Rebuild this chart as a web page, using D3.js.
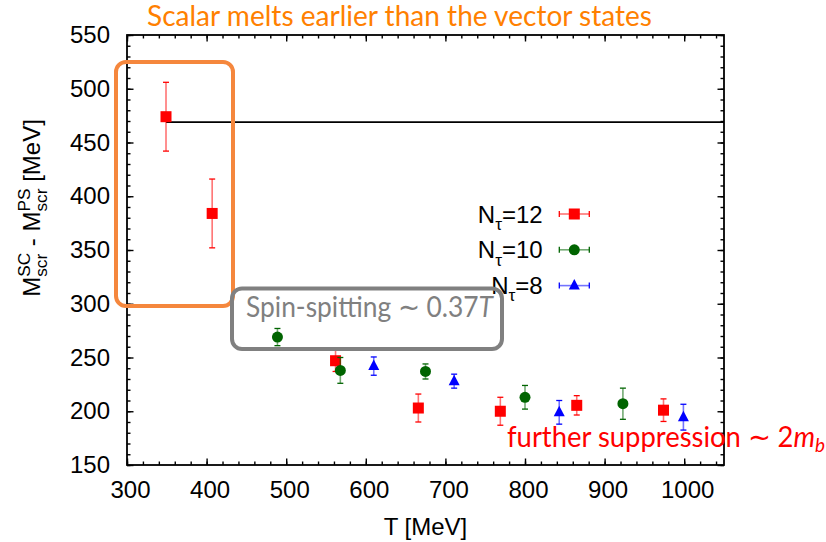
<!DOCTYPE html>
<html>
<head>
<meta charset="utf-8">
<script src="https://cdn.jsdelivr.net/npm/d3@7"></script>
<style>
  body { margin: 0; background: #fff; }
  svg { display: block; }
  text { white-space: pre; }
  .axis text { font-family: "Liberation Sans", Arial, sans-serif; font-size: 24px; fill: #000; }
  .axis path { display: none; }
  .axis line { stroke: #000; stroke-width: 1.4; }
  .ann { font-family: Lato, "Open Sans", sans-serif; font-size: 29px; }
</style>
</head>
<body>
<div id="chart"></div>
<script>
// data: temperature [MeV], mass difference [MeV], error
var T12 = [349, 407, 562, 666, 769, 865, 974];
var M12 = [474, 384, 247, 203, 200, 205.5, 201];
var E12 = [32, 32, 10, 13, 13, 9, 10.5];

var T10 = [489, 568, 675, 800, 923];
var M10 = [269, 238, 237, 213, 207];
var E10 = [8, 12, 7, 11, 14.5];

var T8 = [610, 711, 843, 999];
var M8 = [242, 228, 199, 194.5];
var E8 = [8.5, 6.5, 11, 12];

var refLevel = 469;   // horizontal line
var refStart = 349;

var xTicks = [300, 400, 500, 600, 700, 800, 900, 1000];
var yTicks = [150, 200, 250, 300, 350, 400, 450, 500, 550];

var series = [
  {name: '12', T: T12, M: M12, E: E12, color: '#ff0000', shape: 'square'},
  {name: '10', T: T10, M: M10, E: E10, color: '#006400', shape: 'circle'},
  {name: '8',  T: T8,  M: M8,  E: E8,  color: '#0000ff', shape: 'triangle'}
];

var margin = {top: 35, right: 102, bottom: 77, left: 127};
var width = 826 - margin.left - margin.right;
var height = 542 - margin.top - margin.bottom;

var root = d3.select('#chart').append('svg')
  .attr('width', 826)
  .attr('height', 542);

var svg = root.append('g')
  .attr('transform', 'translate(' + margin.left + ',' + margin.top + ')');

var xScale = d3.scaleLinear().domain([300, 1050]).range([0, width]);
var yScale = d3.scaleLinear().domain([150, 550]).range([height, 0]);

// major + minor ticks, all pointing inward, mirrored on top/right
function addAxis(axisFn, tr, vals, size, labels) {
  var a = axisFn(tr.scale).tickValues(vals).tickSize(-size).tickSizeOuter(0);
  a.tickFormat(labels ? d3.format('d') : '');
  return svg.append('g')
    .attr('class', 'axis')
    .attr('transform', tr.t)
    .call(a.tickPadding(labels ? tr.pad : 0));
}

var xMinor = d3.range(300, 1051, 20);
var yMinor = d3.range(150, 551, 10);
var axBottom = {scale: xScale, t: 'translate(0,' + height + ')', pad: 16};
var axTop = {scale: xScale, t: 'translate(0,0)', pad: 0};
var axLeft = {scale: yScale, t: 'translate(0,0)', pad: 17};
var axRight = {scale: yScale, t: 'translate(' + width + ',0)', pad: 0};

addAxis(d3.axisBottom, axBottom, xMinor, 3.5, false);
addAxis(d3.axisTop, axTop, xMinor, 3.5, false);
addAxis(d3.axisLeft, axLeft, yMinor, 3.5, false);
addAxis(d3.axisRight, axRight, yMinor, 3.5, false);
addAxis(d3.axisBottom, axBottom, xTicks, 6.5, true).selectAll('text').attr('dx', 3);
addAxis(d3.axisTop, axTop, xTicks, 6.5, false);
addAxis(d3.axisLeft, axLeft, yTicks, 6.5, true);
addAxis(d3.axisRight, axRight, yTicks, 6.5, false);

// reference line
svg.append('line')
  .attr('x1', xScale(refStart)).attr('x2', width)
  .attr('y1', yScale(refLevel)).attr('y2', yScale(refLevel))
  .attr('stroke', '#000').attr('stroke-width', 1.6);

function drawPoint(g, shape, color, px, py) {
  if (shape == 'square') {
    g.append('rect').attr('x', px - 5.5).attr('y', py - 5.5)
      .attr('width', 11).attr('height', 11).attr('fill', color);
  } else if (shape == 'circle') {
    g.append('circle').attr('cx', px).attr('cy', py).attr('r', 5.5).attr('fill', color);
  } else {
    g.append('path')
      .attr('d', 'M' + px + ',' + (py - 6.5) + 'L' + (px + 5.5) + ',' + (py + 4) + 'L' + (px - 5.5) + ',' + (py + 4) + 'Z')
      .attr('fill', color);
  }
}

var points = svg.append('g');
series.forEach(function(s) {
  s.T.forEach(function(t, i) {
    var px = xScale(t);
    var y1 = yScale(s.M[i] + s.E[i]), y2 = yScale(s.M[i] - s.E[i]);
    points.append('line').attr('x1', px).attr('x2', px).attr('y1', y1).attr('y2', y2)
      .attr('stroke', s.color).attr('stroke-opacity', 0.55).attr('stroke-width', 1.6);
    [y1, y2].forEach(function(yy) {
      points.append('line').attr('x1', px - 3).attr('x2', px + 3).attr('y1', yy).attr('y2', yy)
        .attr('stroke', s.color).attr('stroke-width', 1.3);
    });
    drawPoint(points, s.shape, s.color, px, yScale(s.M[i]));
  });
});

// text built from pieces so sub/superscripts can sit where gnuplot puts them
function richText(g, parts, size) {
  var x = 0;
  parts.forEach(function(p) {
    if (p.t !== undefined) {
      var t = g.append('text').attr('x', x).attr('y', 0)
        .style('font-family', '"Liberation Sans", Arial, sans-serif')
        .style('font-size', size + 'px').text(p.t);
      x += t.node().getComputedTextLength();
    } else {
      var w = 0;
      if (p.sup) {
        var a = g.append('text').attr('x', x).attr('y', -size * 0.42)
          .style('font-family', '"Liberation Sans", Arial, sans-serif')
          .style('font-size', size * 0.72 + 'px').text(p.sup);
        w = Math.max(w, a.node().getComputedTextLength());
      }
      if (p.sub) {
        var b = g.append('text').attr('x', x).attr('y', size * 0.3)
          .style('font-family', '"Liberation Sans", Arial, sans-serif')
          .style('font-size', size * 0.72 + 'px').text(p.sub);
        w = Math.max(w, b.node().getComputedTextLength());
      }
      x += w;
    }
  });
  return x;
}

// legend
series.forEach(function(s, i) {
  var ly = 214 + i * 35.8 - margin.top;
  var lg = svg.append('g');
  var w = richText(lg, [{t: 'N'}, {sub: 'τ'}, {t: '=' + s.name}], 24);
  lg.attr('transform', 'translate(' + (542.7 - margin.left - w) + ',' + (ly + 8.5) + ')');
  var cx = 574.3 - margin.left;
  svg.append('line').attr('x1', cx - 15).attr('x2', cx + 15).attr('y1', ly).attr('y2', ly)
    .attr('stroke', s.color).attr('stroke-opacity', 0.55).attr('stroke-width', 1.6);
  [cx - 15, cx + 15].forEach(function(xx) {
    svg.append('line').attr('x1', xx).attr('x2', xx).attr('y1', ly - 3).attr('y2', ly + 3)
      .attr('stroke', s.color).attr('stroke-width', 1.3);
  });
  drawPoint(svg, s.shape, s.color, cx, ly);
});

// frame
svg.append('rect').attr('width', width).attr('height', height)
  .attr('fill', 'none').attr('stroke', '#000').attr('stroke-width', 1.8);

// axis titles
root.append('text')
  .attr('x', margin.left + width / 2).attr('y', 535)
  .attr('text-anchor', 'middle')
  .style('font-family', '"Liberation Sans", Arial, sans-serif')
  .style('font-size', '24px')
  .text('T [MeV]');

var yl = root.append('g');
var ylw = richText(yl, [{t: 'M'}, {sup: 'SC', sub: 'scr'}, {t: ' - M'}, {sup: 'PS', sub: 'scr'}, {t: ' [MeV]'}], 24);
yl.attr('transform', 'translate(40,' + (208 + ylw / 2) + ') rotate(-90)');

// annotation boxes
root.append('rect')
  .attr('x', 116).attr('y', 62).attr('width', 117).attr('height', 244)
  .attr('rx', 10).attr('fill', 'none')
  .attr('stroke', '#f5873d').attr('stroke-width', 4);

root.append('rect')
  .attr('x', 232).attr('y', 288.5).attr('width', 270).attr('height', 60.5)
  .attr('rx', 10).attr('fill', 'none')
  .attr('stroke', '#808080').attr('stroke-width', 4);

// annotations
root.append('text').attr('class', 'ann')
  .attr('x', 147).attr('y', 26)
  .attr('textLength', 505).attr('lengthAdjust', 'spacingAndGlyphs')
  .attr('fill', '#ff8000')
  .text('Scalar melts earlier than the vector states');

var spin = root.append('text').attr('class', 'ann')
  .attr('x', 246).attr('y', 317)
  .attr('textLength', 247).attr('lengthAdjust', 'spacingAndGlyphs')
  .attr('fill', '#808080');
spin.append('tspan').text('Spin-spitting ∼ 0.37');
spin.append('tspan').style('font-style', 'italic').text('T');

var supp = root.append('text').attr('class', 'ann')
  .attr('x', 507).attr('y', 447)
  .attr('textLength', 318).attr('lengthAdjust', 'spacingAndGlyphs')
  .attr('fill', '#ff0000');
supp.append('tspan').text('further suppression ∼ 2');
supp.append('tspan').style('font-style', 'italic').text('m');
supp.append('tspan').style('font-style', 'italic').style('font-size', '20px').attr('dy', 5).text('b');
</script>
</body>
</html>
